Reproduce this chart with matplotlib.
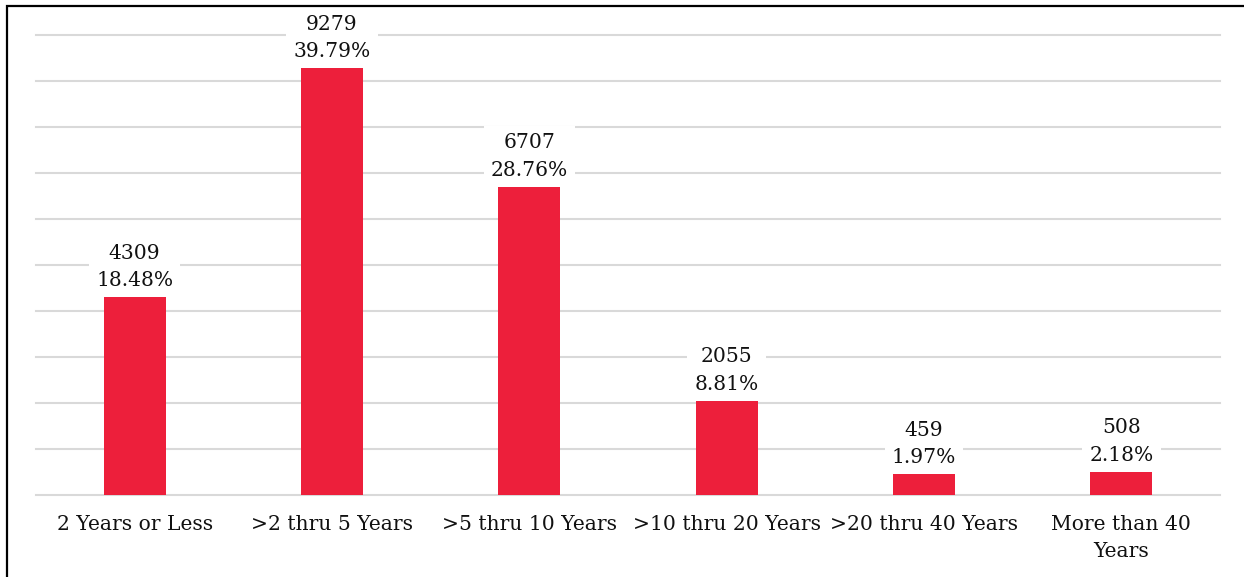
import matplotlib.pyplot as plt
from matplotlib.patches import Rectangle

plt.rcParams['font.family'] = ['DejaVu Serif']

categories = ['2 Years or Less', '>2 thru 5 Years', '>5 thru 10 Years',
              '>10 thru 20 Years', '>20 thru 40 Years', 'More than 40\nYears']
counts = [4309, 9279, 6707, 2055, 459, 508]
percents = ['18.48%', '39.79%', '28.76%', '8.81%', '1.97%', '2.18%']

bar_color = '#ED1F3B'
grid_color = '#D9D9D9'

W, H = 1244, 577
fig = plt.figure(figsize=(W / 100, H / 100), dpi=100)
ax = fig.add_axes([36 / W, 82 / H, (1220 - 36) / W, (495 - 35) / H])

x = range(len(categories))
ax.bar(x, counts, width=0.315, color=bar_color, zorder=2)

ax.set_ylim(0, 10000)
ax.set_xlim(-0.5, len(categories) - 0.5)
ax.set_yticks(range(0, 10001, 1000))
ax.yaxis.grid(True, color=grid_color, linewidth=1.5, zorder=0)
for gl in ax.get_ygridlines():
    gl.set_clip_on(False)
ax.set_axisbelow(True)
for s in ax.spines.values():
    s.set_visible(False)
ax.tick_params(axis='y', left=False, labelleft=False)
ax.tick_params(axis='x', bottom=False, pad=11)
ax.set_xticks(list(x))
ax.set_xticklabels(categories, fontsize=14.6, linespacing=1.55, color='#111111')

for i, (c, p) in enumerate(zip(counts, percents)):
    ax.annotate(f'{c}\n{p}', (i, c), xytext=(0, 5), textcoords='offset points',
                ha='center', va='bottom', fontsize=14.6, linespacing=1.55,
                color='#111111', zorder=3,
                bbox=dict(boxstyle='square,pad=0.35', facecolor='white', edgecolor='none'))

# outer frame (top and left visible)
fig.patches.append(Rectangle((7 / W, -0.1), 1.2, 1 - 6 / H + 0.1, transform=fig.transFigure,
                             fill=False, edgecolor='black', linewidth=1.6))

fig.savefig('out.png', dpi=100)
